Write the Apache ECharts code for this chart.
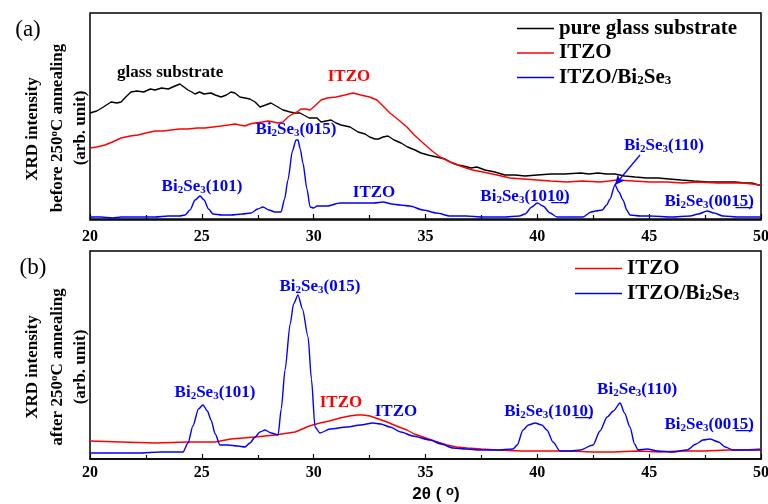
<!DOCTYPE html>
<html><head><meta charset="utf-8">
<script src="https://cdn.jsdelivr.net/npm/echarts@6/dist/echarts.min.js"></script>
<style>html,body{margin:0;padding:0;background:#fff}#c{width:768px;height:504px}</style>
</head><body><div id="c"></div>
<script>
// ---------- DATA ----------
const xRange = [20, 50];
const xTickStep = 5;

// Panel (a): before annealing  [2theta, intensity (arb.)]
const glassA = [[20.0,106],[20.3,108],[20.6,112],[20.94,117],[21.2,116],[21.39,117],[21.6,122],[21.83,127],[22.1,128],[22.4,127],[22.7,130],[22.91,129],[23.2,131],[23.5,130],[23.8,133],[24.02,135],[24.2,132],[24.38,129],[24.55,127],[24.69,125],[24.9,127],[25.1,125],[25.41,126],[25.6,124],[25.86,122],[26.1,124],[26.3,127],[26.48,126],[26.7,122],[26.93,121],[27.15,120],[27.38,117],[27.6,112],[27.85,114],[28.09,116],[28.4,112],[28.63,109],[28.95,107],[29.17,106],[29.39,106],[29.8,101],[30.15,101],[30.33,97],[30.55,98],[30.78,99],[31.0,96],[31.22,94],[31.63,92],[31.98,87],[32.3,85],[32.5,82],[32.74,80],[32.9,80],[33.1,82],[33.32,83],[33.6,79],[33.91,76],[34.2,72],[34.53,69],[34.8,66],[35.11,64],[35.5,62],[35.87,60],[36.2,56],[36.45,54],[36.7,53],[37.04,51],[37.3,52],[37.66,49],[38.1,47],[38.55,44],[39.0,44],[39.45,43],[40.0,44],[40.61,45],[41.2,45],[41.95,46],[42.3,45],[42.71,46],[43.1,45],[43.47,45],[43.9,43],[44.37,42],[44.9,41],[45.4,41],[45.9,40],[46.43,39],[47.0,38],[47.63,37],[48.2,37],[48.84,37],[49.3,36],[49.6,36],[49.87,34],[50.0,34]];
const itzoA = [[20.0,71],[20.3,72],[20.67,74],[21.0,77],[21.39,81],[21.8,83],[22.15,84],[22.5,86],[22.91,88],[23.3,88],[23.62,89],[24.0,90],[24.38,90],[24.8,91],[25.14,91],[25.5,92],[25.86,93],[26.2,94],[26.48,95],[26.7,94],[26.93,93],[27.15,95],[27.38,96],[27.7,97],[27.96,98],[28.2,97],[28.41,96],[28.63,97],[28.85,102],[29.05,105],[29.26,107],[29.43,110],[29.65,110],[29.84,109],[30.05,113],[30.33,119],[30.6,121],[31.0,122],[31.4,124],[31.76,126],[32.1,124],[32.5,122],[32.83,119],[33.1,113],[33.41,106],[33.8,99],[34.17,92],[34.5,84],[34.89,76],[35.3,68],[35.65,62],[36.1,57],[36.68,52],[37.1,49],[37.57,47],[38.2,44],[38.78,41],[39.4,40],[39.99,39],[40.6,38],[41.33,37],[42.0,38],[42.8,37],[43.2,38],[43.56,39],[44.3,38],[45.04,37],[45.8,37],[46.51,36],[47.2,37],[48.03,36],[48.6,36],[49.2,36],[49.6,35],[50.0,34]];
const bisA = [[20.0,2],[20.5,2],[21.0,1],[21.39,2],[22.0,2],[22.91,2],[23.5,3],[24.0,3],[24.25,4],[24.47,9],[24.7,19],[24.92,23],[25.1,19],[25.3,10],[25.5,5],[25.9,4],[26.3,4],[26.8,5],[27.2,6],[27.5,10],[27.73,12],[28.0,9],[28.27,7],[28.54,7],[28.7,20],[28.85,39],[29.05,68],[29.21,79],[29.3,79],[29.4,70],[29.52,56],[29.7,30],[29.84,12],[30.0,11],[30.15,13],[30.6,13],[31.18,16],[31.7,16],[32.21,16],[32.7,16],[33.1,17],[33.5,15],[33.86,14],[34.3,13],[34.89,9],[35.5,6],[36.1,3],[36.8,3],[37.57,2],[38.5,2],[39.2,3],[39.45,5],[39.75,12],[40.0,16],[40.25,13],[40.57,6],[40.88,2],[41.5,2],[42.04,2],[42.4,7],[42.6,8],[42.9,9],[43.1,14],[43.25,20],[43.47,34],[43.65,27],[43.83,19],[44.0,9],[44.14,4],[44.6,3],[45.04,3],[46.0,2],[46.83,3],[47.2,5],[47.59,8],[47.9,6],[48.3,3],[49.0,2],[50.0,2]];

// Panel (b): after annealing
const itzoB = [[20.0,18],[21.39,17],[22.91,16],[24.38,17],[25.59,17],[26.3,20],[27.38,22],[28.27,24],[29.17,27],[29.39,29],[29.8,33],[30.28,36],[30.7,38],[31.18,41],[31.6,43],[31.94,44],[32.2,44],[32.52,43],[32.9,40],[33.28,37],[33.7,33],[34.17,29],[34.5,25],[34.89,22],[35.4,18],[35.96,14],[36.4,12],[36.86,11],[37.5,10],[38.2,9],[39.3,8],[40.43,8],[41.5,8],[42.5,7],[43.38,7],[44.5,8],[45.5,7],[46.38,8],[47.5,8],[48.5,9],[49.3,9],[50.0,10]];
const bisB = [[20.0,6],[21.0,6],[22.15,6],[23.2,7],[24.16,7],[24.38,16],[24.6,33],[24.85,50],[25.05,54],[25.25,48],[25.41,39],[25.6,25],[25.81,14],[26.17,14],[26.6,13],[26.93,12],[27.15,16],[27.38,22],[27.6,27],[27.82,29],[28.1,26],[28.41,24],[28.55,50],[28.72,89],[28.95,135],[29.1,155],[29.3,164],[29.5,150],[29.75,122],[29.9,80],[30.06,32],[30.28,26],[30.73,30],[31.49,32],[32.1,34],[32.65,36],[33.0,35],[33.41,32],[33.9,27],[34.44,23],[35.2,19],[35.7,15],[36.23,11],[36.8,10],[37.44,9],[38.2,9],[38.91,10],[39.1,14],[39.36,29],[39.6,34],[39.9,36],[40.2,34],[40.43,29],[40.7,17],[41.01,8],[41.5,8],[41.91,9],[42.49,14],[42.8,28],[43.12,42],[43.4,48],[43.7,56],[43.9,46],[44.14,32],[44.35,15],[44.5,9],[44.9,10],[45.4,8],[46.07,7],[46.69,9],[47.1,15],[47.4,19],[47.72,20],[48.1,17],[48.4,12],[48.75,9],[49.3,9],[50.0,9]];

// Annotations
const U = s => s.split('').map(c => c + '\u0332').join('');
const annTextA = ['glass substrate','ITZO','Bi{s|2}Se{s|3}(015)','Bi{s|2}Se{s|3}(101)','ITZO','Bi{s|2}Se{s|3}(10' + U('10') + ')','Bi{s|2}Se{s|3}(110)','Bi{s|2}Se{s|3}(00' + U('15') + ')'];
const annXA = [23.58, 31.58, 29.21, 25.01, 32.70, 39.45, 45.66, 47.68];
const annYA = [146, 142, 89, 32, 26, 22, 73, 17];
const annColA = ['#000000','#ff0000','#0000ff','#0000ff','#0000ff','#0000ff','#0000ff','#0000ff'];
const arrowFrom = [44.59, 64];
const arrowTo = [43.47, 34];

const annTextB = ['Bi{s|2}Se{s|3}(015)','Bi{s|2}Se{s|3}(101)','ITZO','ITZO','Bi{s|2}Se{s|3}(10' + U('10') + ')','Bi{s|2}Se{s|3}(110)','Bi{s|2}Se{s|3}(00' + U('15') + ')'];
const annXB = [30.28, 25.59, 31.22, 33.68, 40.52, 44.46, 47.68];
const annYB = [172, 66, 56, 47, 47, 69, 34];
const annColB = ['#0000ff','#0000ff','#ff0000','#0000ff','#0000ff','#0000ff','#0000ff'];

const legendA = ['pure glass substrate', 'ITZO', 'ITZO/Bi2Se3'];
const legendB = ['ITZO (b)', 'ITZO/Bi2Se3 (b)'];

// ---------- CHART ----------
const SERIF = '"Liberation Serif","Times New Roman",serif';
const SANS = '"Liberation Sans",Arial,sans-serif';
const BLACK = '#000000', RED = '#ff0000', BLUE = '#0000ff';
const chart = echarts.init(document.getElementById('c'), null, {renderer: 'canvas'});

const subRich = {s: {fontSize: 11, lineHeight: 11, fontWeight: 'bold', fontFamily: SERIF, verticalAlign: 'bottom', padding: [2, 0, 0, 0]}};
const legSubRich = {s: {fontSize: 13, lineHeight: 13, fontWeight: 'bold', fontFamily: SERIF, verticalAlign: 'bottom', padding: [3, 0, 0, 0]}};

function xAxis(gi, margin) {
  return {
    type: 'value', gridIndex: gi, min: xRange[0], max: xRange[1], interval: xTickStep,
    axisLine: {show: true, lineStyle: {color: BLACK, width: 1.5}},
    axisTick: {show: true, inside: true, length: 5, lineStyle: {color: BLACK, width: 1.2}},
    minorTick: {show: true, splitNumber: 2, length: 4, lineStyle: {color: BLACK, width: 1.2}},
    splitLine: {show: false}, minorSplitLine: {show: false},
    axisLabel: {show: true, margin: margin, color: BLACK, fontFamily: SERIF, fontWeight: 'bold', fontSize: 16, showMinLabel: true, showMaxLabel: true, hideOverlap: false}
  };
}
function yAxis(gi, min, max) {
  return {type: 'value', gridIndex: gi, min: min, max: max,
    axisLine: {show: false}, axisTick: {show: false}, axisLabel: {show: false}, splitLine: {show: false}};
}
function line(name, data, color, gi, extra) {
  return Object.assign({type: 'line', name: name, data: data, xAxisIndex: gi, yAxisIndex: gi,
    symbol: 'none', showSymbol: false, smooth: 0.25, smoothMonotone: 'x',
    lineStyle: {color: color, width: 1.4}, itemStyle: {color: color}, silent: true, z: 3}, extra || {});
}
function ann(gi, texts, xs, ys, cols) {
  return {type: 'scatter', xAxisIndex: gi, yAxisIndex: gi, symbol: 'circle', symbolSize: 1, silent: true, z: 5,
    itemStyle: {color: 'rgba(0,0,0,0)', opacity: 1},
    label: {show: true, position: 'inside', opacity: 1, fontFamily: SERIF, fontWeight: 'bold', fontSize: 17, lineHeight: 18, rich: subRich},
    data: texts.map((t, i) => ({value: [xs[i], ys[i]], label: {formatter: t, color: cols[i]}}))};
}
function rotText(x, y, text) {
  return {type: 'text', x: x, y: y, rotation: Math.PI / 2, silent: true,
    style: {text: text, fill: BLACK, fontFamily: SERIF, fontWeight: 'bold', fontSize: 17, lineHeight: 18,
      align: 'center', verticalAlign: 'middle',
      rich: {o: {fontSize: 11, lineHeight: 11, fontFamily: SERIF, fontWeight: 'bold', fill: BLACK, verticalAlign: 'top'}}}};
}

const legendText = {fontFamily: SERIF, fontWeight: 'bold', fontSize: 21, color: BLACK, lineHeight: 20, rich: legSubRich};
const legMap = n => ({'ITZO/Bi2Se3': 'ITZO/Bi{s|2}Se{s|3}', 'ITZO (b)': 'ITZO', 'ITZO/Bi2Se3 (b)': 'ITZO/Bi{s|2}Se{s|3}'}[n] || n);

chart.setOption({
  animation: false,
  backgroundColor: '#ffffff',
  grid: [
    {left: 90, top: 13, width: 671, height: 207, show: true, borderColor: BLACK, borderWidth: 1.5, backgroundColor: 'transparent', containLabel: false, outerBoundsMode: 'none'},
    {left: 90, top: 251, width: 671, height: 208, show: true, borderColor: BLACK, borderWidth: 1.5, backgroundColor: 'transparent', containLabel: false, outerBoundsMode: 'none'}
  ],
  xAxis: [xAxis(0, 9), xAxis(1, 6)],
  yAxis: [yAxis(0, -1, 206), yAxis(1, 0, 208)],
  legend: [
    {data: legendA, orient: 'vertical', left: 517, top: 18, padding: 0, itemWidth: 37, itemHeight: 1.6, itemGap: 3.5, icon: 'rect',
      selectedMode: false, textStyle: legendText, formatter: legMap},
    {data: legendB, orient: 'vertical', left: 575, top: 258, padding: 0, itemWidth: 47, itemHeight: 1.6, itemGap: 4, icon: 'rect',
      selectedMode: false, textStyle: legendText, formatter: legMap}
  ],
  series: [
    line('pure glass substrate', glassA, BLACK, 0, {smooth: false}),
    line('ITZO', itzoA, RED, 0, {smooth: false}),
    line('ITZO/Bi2Se3', bisA, BLUE, 0, {
      markLine: {silent: true, animation: false, symbol: ['none', 'arrow'], symbolSize: [7, 10],
        lineStyle: {color: BLUE, width: 1.3, type: 'solid'}, label: {show: false},
        data: [[{coord: arrowFrom}, {coord: arrowTo}]]}}),
    line('ITZO (b)', itzoB, RED, 1, {smooth: false}),
    line('ITZO/Bi2Se3 (b)', bisB, BLUE, 1),
    ann(0, annTextA, annXA, annYA, annColA),
    ann(1, annTextB, annXB, annYB, annColB)
  ],
  graphic: [
    {type: 'text', x: 28, y: 30, silent: true, style: {text: '(a)', fill: BLACK, fontFamily: SERIF, fontSize: 23, align: 'center', verticalAlign: 'middle'}},
    {type: 'text', x: 33, y: 268, silent: true, style: {text: '(b)', fill: BLACK, fontFamily: SERIF, fontSize: 23, align: 'center', verticalAlign: 'middle'}},
    rotText(33, 129, 'XRD intensity'),
    rotText(57.5, 128, 'before 250{o|o}C annealing'),
    rotText(81, 128, '(arb. unit)'),
    rotText(33, 367, 'XRD intensity'),
    rotText(57.5, 367, 'after 250{o|o}C annealing'),
    rotText(81, 367, '(arb. unit)'),
    {type: 'text', x: 436, y: 494, silent: true,
      style: {text: '2θ ( {o|o})', fill: BLACK, fontFamily: SANS, fontWeight: 'bold', fontSize: 17, lineHeight: 18,
        align: 'center', verticalAlign: 'middle',
        rich: {o: {fontSize: 13, lineHeight: 13, fontFamily: SANS, fontWeight: 'bold', fill: BLACK, verticalAlign: 'top'}}}}
  ]
});
</script>
</body></html>
